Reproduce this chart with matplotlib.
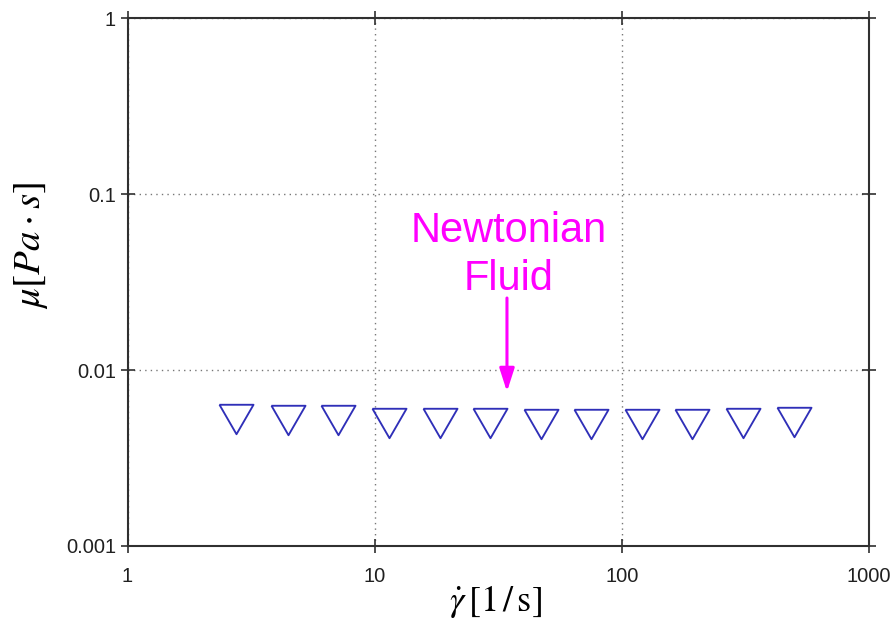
import numpy as np
import matplotlib
matplotlib.use("Agg")
import matplotlib.pyplot as plt

# shear rate [1/s] and viscosity [Pa.s]
shear_rate = [2.76, 4.45, 7.11, 11.4, 18.3, 29.2, 47.1, 75.2, 120.5, 192.5, 308.6, 496.0]
viscosity = [0.00525, 0.00522, 0.00520, 0.00503, 0.00503, 0.00498,
             0.00495, 0.00492, 0.00492, 0.00495, 0.00497, 0.00508]

xticks = [1, 10, 100, 1000]
xtick_labels = ["1", "10", "100", "1000"]
yticks = [0.001, 0.01, 0.1, 1]
ytick_labels = ["0.001", "0.01", "0.1", "1"]

plt.rcParams['font.family'] = ['Liberation Sans', 'DejaVu Sans']
plt.rcParams['mathtext.fontset'] = 'stix'

fig = plt.figure(figsize=(8.93, 6.26), dpi=100)
ax = fig.add_axes([0.1428, 0.1278, 0.8303, 0.8434])

# equilateral downward triangle, centred on its bounding box
tri = [(-1, 0.866), (1, 0.866), (0, -0.866), (-1, 0.866)]
ax.plot(shear_rate, viscosity, linestyle="none", marker=tri, markersize=24.5,
        markerfacecolor="none", markeredgecolor="#2f2fb8", markeredgewidth=1.35)

ax.set_xscale('log')
ax.set_yscale('log')
ax.set_xlim(1, 1000)
ax.set_ylim(0.001, 1)
ax.set_xticks(xticks)
ax.set_xticklabels(xtick_labels)
ax.set_yticks(yticks)
ax.set_yticklabels(ytick_labels)
ax.minorticks_off()

ax.grid(True, which='major', color='#777777', linestyle=(0, (1, 3)), linewidth=1.0)
for s in ax.spines.values():
    s.set_linewidth(1.5)
    s.set_color('#303030')
ax.tick_params(axis='both', which='major', direction='inout', length=9.4, width=1.2,
               color='#303030', labelsize=14.5, labelcolor='#202020',
               top=True, right=True)
ax.tick_params(axis='y', pad=3.6)
ax.tick_params(axis='x', pad=10.5)

ax.set_xlabel(r'$\dot{\gamma}\,[1\,/\,\mathrm{s}]$', fontsize=26)
ax.set_ylabel(r'$\mu[Pa \cdot s]$', fontsize=28)
ax.xaxis.set_label_coords(0.4956, -0.071)
ax.yaxis.set_label_coords(-0.104, 0.57)

# annotation
ax.text(34.8, 0.0536, "Newtonian", color="#ff00ff", fontsize=30,
        ha="center", va="baseline")
ax.text(34.8, 0.0285, "Fluid", color="#ff00ff", fontsize=30,
        ha="center", va="baseline")
ax.annotate("", xy=(34.3, 0.00753), xytext=(34.3, 0.02565),
            arrowprops=dict(arrowstyle="-|>,head_length=1.4,head_width=0.45",
                            color="#ff00ff", lw=2.2, shrinkA=0, shrinkB=0))

fig.savefig("out.png", dpi=100)
